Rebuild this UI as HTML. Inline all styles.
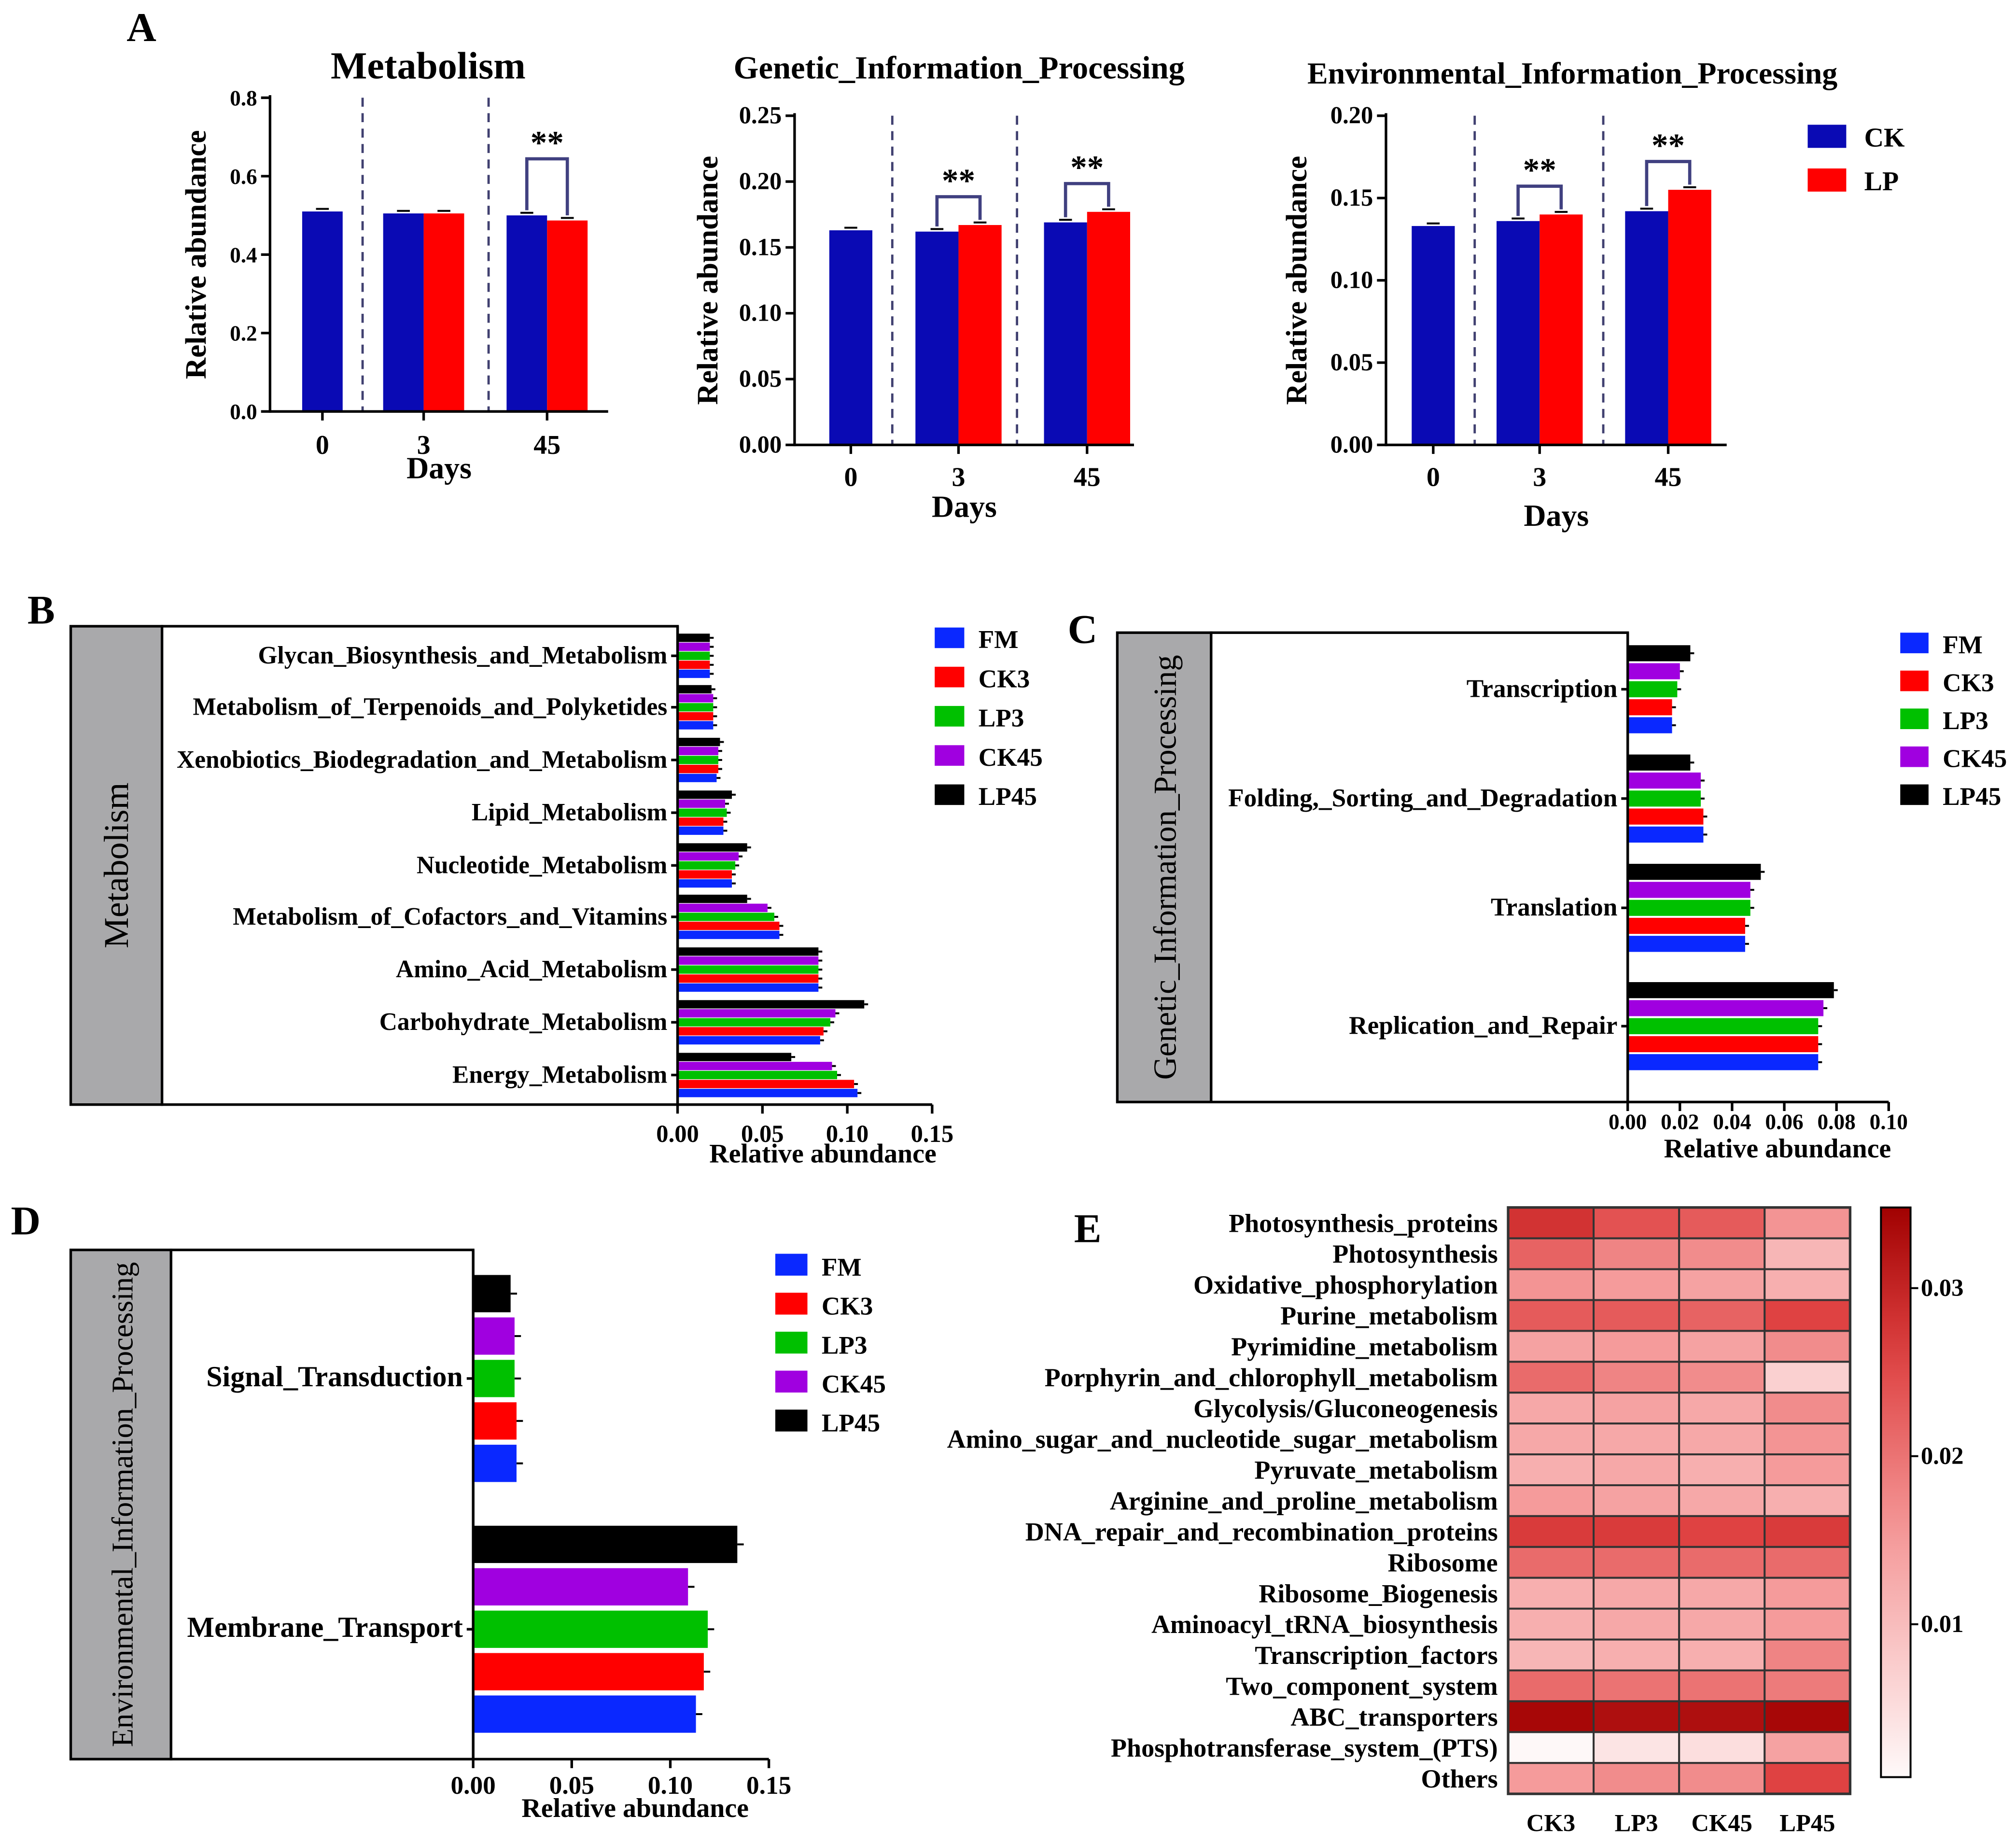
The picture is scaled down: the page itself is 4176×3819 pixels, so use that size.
<!DOCTYPE html>
<html><head><meta charset="utf-8">
<style>
html,body{margin:0;padding:0;background:#fff;}
svg{display:block;font-family:"Liberation Serif",serif;font-weight:bold;}
</style></head>
<body>
<svg id="fig" width="4176" height="3819" viewBox="0 0 1568 1434" xmlns="http://www.w3.org/2000/svg"></svg>
<script>
// ---------- DATA ----------
const aDays = ["0","3","45"];
const aMetCK = [0.51, 0.505, 0.50];
const aMetLP = [null, 0.505, 0.487];
const aGenCK = [0.163, 0.162, 0.169];
const aGenLP = [null, 0.167, 0.177];
const aEnvCK = [0.133, 0.136, 0.142];
const aEnvLP = [null, 0.140, 0.155];
const aMetTicks = ["0.0","0.2","0.4","0.6","0.8"];
const aGenTicks = ["0.00","0.05","0.10","0.15","0.20","0.25"];
const aEnvTicks = ["0.00","0.05","0.10","0.15","0.20"];

const groups = ["FM","CK3","LP3","CK45","LP45"];
const bCats = ["Glycan_Biosynthesis_and_Metabolism","Metabolism_of_Terpenoids_and_Polyketides","Xenobiotics_Biodegradation_and_Metabolism","Lipid_Metabolism","Nucleotide_Metabolism","Metabolism_of_Cofactors_and_Vitamins","Amino_Acid_Metabolism","Carbohydrate_Metabolism","Energy_Metabolism"];
const bFM   = [0.019,0.021,0.023,0.027,0.032,0.060,0.083,0.084,0.106];
const bCK3  = [0.019,0.021,0.024,0.027,0.032,0.060,0.083,0.086,0.104];
const bLP3  = [0.019,0.021,0.024,0.029,0.034,0.057,0.083,0.090,0.094];
const bCK45 = [0.019,0.021,0.024,0.028,0.036,0.053,0.083,0.093,0.091];
const bLP45 = [0.019,0.020,0.025,0.032,0.041,0.041,0.083,0.110,0.067];
const bTicks = ["0.00","0.05","0.10","0.15"];

const cCats = ["Transcription","Folding,_Sorting_and_Degradation","Translation","Replication_and_Repair"];
const cFM   = [0.017,0.029,0.045,0.073];
const cCK3  = [0.017,0.029,0.045,0.073];
const cLP3  = [0.019,0.028,0.047,0.073];
const cCK45 = [0.020,0.028,0.047,0.075];
const cLP45 = [0.024,0.024,0.051,0.079];
const cTicks = ["0.00","0.02","0.04","0.06","0.08","0.10"];

const dCats = ["Signal_Transduction","Membrane_Transport"];
const dFM   = [0.022,0.113];
const dCK3  = [0.022,0.117];
const dLP3  = [0.021,0.119];
const dCK45 = [0.021,0.109];
const dLP45 = [0.019,0.134];
const dTicks = ["0.00","0.05","0.10","0.15"];

const eRows = ["Photosynthesis_proteins","Photosynthesis","Oxidative_phosphorylation","Purine_metabolism","Pyrimidine_metabolism","Porphyrin_and_chlorophyll_metabolism","Glycolysis/Gluconeogenesis","Amino_sugar_and_nucleotide_sugar_metabolism","Pyruvate_metabolism","Arginine_and_proline_metabolism","DNA_repair_and_recombination_proteins","Ribosome","Ribosome_Biogenesis","Aminoacyl_tRNA_biosynthesis","Transcription_factors","Two_component_system","ABC_transporters","Phosphotransferase_system_(PTS)","Others"];
const eCols = ["CK3","LP3","CK45","LP45"];
const eCK3  = [0.028,0.022,0.016,0.023,0.014,0.021,0.013,0.013,0.012,0.015,0.027,0.021,0.012,0.012,0.011,0.021,0.034,0.001,0.015];
const eLP3  = [0.024,0.018,0.015,0.023,0.015,0.018,0.014,0.013,0.013,0.014,0.027,0.021,0.013,0.013,0.012,0.020,0.033,0.004,0.017];
const eCK45 = [0.023,0.017,0.014,0.022,0.014,0.017,0.013,0.013,0.012,0.013,0.026,0.021,0.013,0.013,0.012,0.020,0.033,0.005,0.017];
const eLP45 = [0.016,0.011,0.012,0.026,0.017,0.007,0.017,0.016,0.015,0.012,0.027,0.021,0.015,0.015,0.018,0.019,0.034,0.014,0.026];
const eTicks = [0.01,0.02,0.03];

// ---------- HELPERS ----------
const svg = document.getElementById('fig');
const NS = "http://www.w3.org/2000/svg";
const BLUE="#0a0ab4", RED="#ff0000", GREEN="#00c000", PURPLE="#a000e0", BLACK="#000";
const grpColors = [ "#0a28ff", RED, GREEN, PURPLE, BLACK ];
function mk(tag, attrs, parent){
  const e=document.createElementNS(NS,tag);
  for(const k in attrs) e.setAttribute(k,attrs[k]);
  (parent||svg).appendChild(e); return e;
}
function txt(x,y,s,size,anchor,parent,rot){
  const t=mk('text',{x:x,y:y,'font-size':size,'text-anchor':anchor||'middle'},parent);
  if(rot) t.setAttribute('transform','rotate('+rot+' '+x+' '+y+')');
  t.textContent=s; return t;
}
function line(x1,y1,x2,y2,w,parent,dash){
  const l=mk('line',{x1:x1,y1:y1,x2:x2,y2:y2,stroke:'#000','stroke-width':w||2},parent);
  if(dash){l.setAttribute('stroke-dasharray',dash);l.setAttribute('stroke',"#404070");}
  return l;
}

[["A",110,32],["B",32,485],["C",842,500],["D",20,960],["E",846,966]].forEach(p=>{
  const t=txt(p[1],p[2],p[0],32,'middle');
  
  
});

// ---------- PANEL A ----------
function drawA(cfg){
  const g=mk('g',{});
  
  
  const y=v=>cfg.y0-(v/cfg.max)*(cfg.y0-cfg.yTop);
  cfg.ck.forEach((v,i)=>{
    const r=mk('rect',{x:cfg.ckX[i],y:y(v),width:cfg.bw,height:cfg.y0-y(v),fill:BLUE},g);
    
    
    line(cfg.ckX[i]+cfg.bw/2-5,y(v)-2,cfg.ckX[i]+cfg.bw/2+5,y(v)-2,1.5,g);
  });
  cfg.lp.forEach((v,i)=>{
    if(v==null) return;
    const r=mk('rect',{x:cfg.ckX[i]+cfg.bw,y:y(v),width:cfg.bw,height:cfg.y0-y(v),fill:RED},g);
    
    
    line(cfg.ckX[i]+cfg.bw*1.5-5,y(v)-2,cfg.ckX[i]+cfg.bw*1.5+5,y(v)-2,1.5,g);
  });
  cfg.dash.forEach(dx=>line(dx,cfg.yTop,dx,cfg.y0,1.8,g,"7,5"));
  line(cfg.x0,cfg.yTop-2,cfg.x0,cfg.y0+1,2,g);
  line(cfg.x0,cfg.y0,cfg.x1,cfg.y0,2,g);
  cfg.ticks.forEach((s,i)=>{
    const v=i*cfg.max/(cfg.ticks.length-1);
    line(cfg.x0-7,y(v),cfg.x0,y(v),2,g);
    txt(cfg.x0-10,y(v)+6,s,cfg.tfs,'end',g);
  });
  aDays.forEach((d,i)=>{
    const cx = i===0? cfg.ckX[0]+cfg.bw/2 : cfg.ckX[i]+cfg.bw;
    line(cx,cfg.y0,cx,cfg.y0+7,2,g);
    txt(cx,cfg.y0+cfg.dayOff,d,21,'middle',g);
  });
  const dt=txt((cfg.x0+cfg.x1)/2,cfg.daysY,"Days",24,'middle',g);
  
  const yt=txt(cfg.x0-cfg.ylOff,(cfg.y0+cfg.yTop)/2,"Relative abundance",23,'middle',g,-90);
  
  const tt=txt(cfg.titleX,cfg.titleY,cfg.title,cfg.titleFs,'middle',g);
  
  cfg.sig.forEach(i=>{
    const a=cfg.ckX[i]+cfg.bw/2, b=cfg.ckX[i]+cfg.bw*1.5;
    const top=y(Math.max(cfg.ck[i],cfg.lp[i]))-cfg.brH;
    mk('path',{d:`M${a} ${y(cfg.ck[i])-4} V${top} H${b} V${y(cfg.lp[i])-4}`,fill:'none',stroke:'#404080','stroke-width':2.5},g);
    txt((a+b)/2,top-4,"**",26,'middle',g);
  });
}
drawA({name:'metabolism-chart',x0:210,x1:473,y0:320,yTop:76,max:0.8,ticks:aMetTicks,tfs:17,ck:aMetCK,lp:aMetLP,
  ckX:[235,298,394],bw:31.5,dash:[282,380],dayOff:33,daysY:372,ylOff:50,title:"Metabolism",titleX:333,titleY:61,titleFs:30,sig:[2],brH:44});
drawA({name:'genetic-information-chart',x0:618,x1:882,y0:346,yTop:90,max:0.25,ticks:aGenTicks,tfs:19,ck:aGenCK,lp:aGenLP,
  ckX:[645,712,812],bw:33.5,dash:[694,791],dayOff:32,daysY:402,ylOff:60,title:"Genetic_Information_Processing",titleX:746,titleY:61,titleFs:25,sig:[1,2],brH:22});
drawA({name:'environmental-information-chart',x0:1078,x1:1343,y0:346,yTop:90,max:0.20,ticks:aEnvTicks,tfs:19,ck:aEnvCK,lp:aEnvLP,
  ckX:[1098,1164,1264],bw:33.5,dash:[1147,1247],dayOff:32,daysY:409,ylOff:62,title:"Environmental_Information_Processing",titleX:1223,titleY:65,titleFs:24,sig:[1,2],brH:22});
[["CK",BLUE,97],["LP",RED,131]].forEach(l=>{
  const r=mk('rect',{x:1406,y:l[2],width:30,height:18,fill:l[1]});
  
  
  const t=txt(1450,l[2]+17,l[0],21,'start');
  
  
});

// ---------- HORIZONTAL GROUPED BAR PANELS ----------
function drawH(cfg){
  const g=mk('g',{});
  
  
  const sx=v=>cfg.x0+v/cfg.max*(cfg.x1-cfg.x0);
  mk('rect',{x:cfg.gx,y:cfg.top,width:cfg.wx-cfg.gx,height:cfg.bot-cfg.top,fill:'#a9a9ab',stroke:'#000','stroke-width':2},g);
  mk('rect',{x:cfg.wx,y:cfg.top,width:cfg.x0-cfg.wx,height:cfg.bot-cfg.top,fill:'#fff',stroke:'#000','stroke-width':2},g);
  const st=txt((cfg.gx+cfg.wx)/2+9,(cfg.top+cfg.bot)/2,cfg.side,cfg.sideFs,'middle',g,-90);
  st.setAttribute('font-weight','normal');
  
  
  const series=cfg.series;
  cfg.cats.forEach((c,i)=>{
    const cy=cfg.catY[i];
    const lt=txt(cfg.x0-8,cy+6,c,cfg.lfs,'end',g);
    
    
    line(cfg.x0-5,cy,cfg.x0,cy,2,g);
    for(let s=0;s<5;s++){
      const v=series[s][i];
      const yy=cy-2.5*cfg.step+(4-s)*cfg.step;
      const r=mk('rect',{x:cfg.x0,y:yy+(cfg.step-cfg.bh)/2,width:sx(v)-cfg.x0,height:cfg.bh,fill:grpColors[s]},g);
      
      
      if(cfg.err) line(sx(v),yy+cfg.step/2,sx(v)+cfg.err,yy+cfg.step/2,1.5,g);
    }
  });
  line(cfg.x0,cfg.top,cfg.x0,cfg.bot,2,g);
  line(cfg.x0,cfg.bot,cfg.x1,cfg.bot,2,g);
  cfg.ticks.forEach((s,i)=>{
    const v=i*cfg.max/(cfg.ticks.length-1);
    line(sx(v),cfg.bot,sx(v),cfg.bot+7,2,g);
    txt(sx(v),cfg.bot+cfg.tOff,s,cfg.tfs,'middle',g);
  });
  const xt=txt((cfg.x0+cfg.x1)/2+cfg.xtDx,cfg.bot+cfg.xtOff,"Relative abundance",21,'middle',g);
  
  groups.forEach((gname,s)=>{
    const ly=cfg.legY+s*cfg.legStep;
    mk('rect',{x:cfg.legX,y:ly,width:cfg.legW,height:cfg.legH,fill:grpColors[s]},g);
    const t=txt(cfg.legX+cfg.legW+11,ly+cfg.legH,gname,20,'start',g);
    
    
  });
}
drawH({name:'metabolism-pathway-chart',gx:55,wx:126,top:487,bot:859,x0:527,x1:725,max:0.15,ticks:bTicks,tfs:19,tOff:29,xtOff:45,xtDx:14,
  cats:bCats,catY:[510,550,591,632,673,713,754,795,836],step:7,bh:6.5,lfs:19.3,side:"Metabolism",sideFs:27,err:3,
  series:[bFM,bCK3,bLP3,bCK45,bLP45],legX:727,legY:488,legStep:30.5,legW:23,legH:16});
drawH({name:'genetic-pathway-chart',gx:869,wx:942,top:492,bot:857,x0:1266,x1:1469,max:0.10,ticks:cTicks,tfs:17,tOff:21,xtOff:43,xtDx:15,
  cats:cCats,catY:[536,621,706,798],step:14,bh:12.5,lfs:20,side:"Genetic_Information_Processing",sideFs:25,err:3,
  series:[cFM,cCK3,cLP3,cCK45,cLP45],legX:1478,legY:492,legStep:29.5,legW:22,legH:16});
drawH({name:'environmental-pathway-chart',gx:55,wx:133,top:972,bot:1368,x0:368,x1:598,max:0.15,ticks:dTicks,tfs:20,tOff:27,xtOff:45,xtDx:11,
  cats:dCats,catY:[1072,1267],step:33,bh:29,lfs:22.5,side:"Environmental_Information_Processing",sideFs:23.5,err:5,
  series:[dFM,dCK3,dLP3,dCK45,dLP45],legX:603,legY:975,legStep:30.3,legW:25,legH:17});

// ---------- HEATMAP E ----------
(function(){
  const g=mk('g',{});
  
  
  const x0=1173, cw=66.5, y0=939, rh=24, vmax=0.035;
  const cols=[eCK3,eLP3,eCK45,eLP45];
  const stops=[[0,[255,255,255]],[0.45,[244,150,150]],[0.75,[222,64,64]],[1,[160,0,0]]];
  function color(v){
    const t=Math.max(0,Math.min(1,v/vmax));
    for(let k=1;k<stops.length;k++){
      if(t<=stops[k][0]){
        const a=stops[k-1],b=stops[k],f=(t-a[0])/(b[0]-a[0]);
        return 'rgb('+a[1].map((c,m)=>Math.round(c+(b[1][m]-c)*f)).join(',')+')';
      }
    }
    return 'rgb(160,0,0)';
  }
  eRows.forEach((r,i)=>{
    const t=txt(x0-8,y0+i*rh+19,r,20.3,'end',g);
    
    
    cols.forEach((arr,j)=>{
      const c=mk('rect',{x:x0+j*cw,y:y0+i*rh,width:cw,height:rh,fill:color(arr[i]),stroke:'#333','stroke-width':1.5},g);
      
      
    });
  });
  mk('rect',{x:x0,y:y0,width:cw*4,height:rh*eRows.length,fill:'none',stroke:'#333','stroke-width':2},g);
  eCols.forEach((c,j)=>{
    const t=txt(x0+j*cw+cw/2,1424,c,19,'middle',g);
    
    
  });
  const defs=mk('defs',{},g);
  const lg=mk('linearGradient',{id:'cb',x1:0,y1:1,x2:0,y2:0},defs);
  const cbTop=939, cbBot=1382, vTop=0.0348, vBot=0.0009;
  for(let k=0;k<=10;k++){
    const v=vBot+(vTop-vBot)*k/10;
    mk('stop',{offset:(k*10)+'%','stop-color':color(v)},lg);
  }
  const cb=mk('rect',{x:1463,y:cbTop,width:23,height:cbBot-cbTop,fill:'url(#cb)',stroke:'#000','stroke-width':1.5},g);
  
  
  eTicks.forEach(v=>{
    const yy=cbBot-(v-vBot)/(vTop-vBot)*(cbBot-cbTop);
    line(1486,yy,1492,yy,1.5,g);
    txt(1494,yy+6,v.toFixed(2),19,'start',g);
  });
})();
</script>
</body></html>
